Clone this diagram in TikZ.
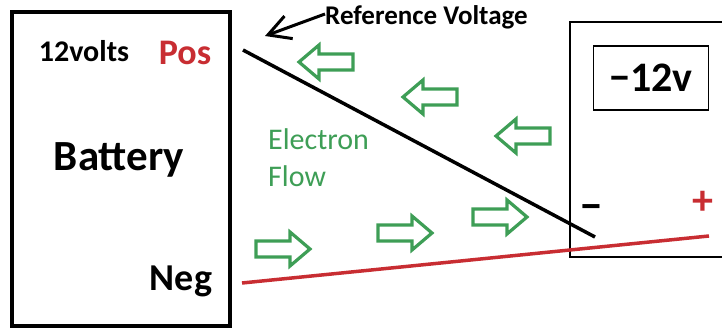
\documentclass[tikz,border=0pt]{standalone}
\usepackage{fontspec}
\setmainfont{Carlito}
\usetikzlibrary{arrows.meta}
\definecolor{posred}{RGB}{200,45,50}
\definecolor{flowgreen}{RGB}{62,158,86}

\tikzset{
  flowarrow/.pic={
    % hollow block arrow, pointing right
    \draw[flowgreen, line width=3.2pt, line join=miter]
      (-27,-8) -- (7,-8) -- (7,-17) -- (27,0) -- (7,17) -- (7,8) -- (-27,8) -- cycle;
  }
}

\begin{document}
\begin{tikzpicture}[x=1pt, y=-1pt,
    label/.style={inner sep=0pt, font=\bfseries\fontsize{#1}{#1}\selectfont},
    wire/.style={line width=3.5pt}]
    \useasboundingbox (0,0) rectangle (722,328);

    % --- battery ---
    \node[draw, line width=4pt, minimum width=218pt, minimum height=314pt, inner sep=0pt] (battery) at (121,169) {};
    \node[label=30] (volts) at (84,51) {12volts};
    \node[label=36, text=posred] (poslabel) at (185,53) {Pos};
    \node[label=43] (batlabel) at (119,160) {Battery};
    \node[label=38] (neglabel) at (181,281) {Neg};

    % --- meter (runs off the right edge) ---
    \draw[line width=1.2pt] (726,22) -- (570,22) -- (570,257) -- (726,257);
    \node[draw, line width=1.2pt, minimum width=115pt, minimum height=64pt, label=42] (reading) at (651,78) {−12v};
    \node[label=44] (minuslabel) at (591,213) {−};
    \node[label=42, text=posred] (pluslabel) at (703,203) {+};

    % --- terminals ---
    \coordinate (posterm) at (243,50);
    \coordinate (minusterm) at (595,237);
    \coordinate (negterm) at (242,283);
    \coordinate (plusterm) at (709,236);

    % --- wires ---
    \draw[wire, black] (posterm) -- (minusterm);
    \draw[wire, posred] (negterm) -- (plusterm);

    % --- reference voltage label and pointer ---
    \node[label=27, anchor=west] (reflabel) at (325,17) {Reference Voltage};
    \coordinate (reftip) at (265,36);
    \draw[line width=3pt, -{Straight Barb[length=22pt, width=24pt]}] ([yshift=3pt]reflabel.west) -- (reftip);

    % --- electron flow ---
    \node[font=\fontsize{30}{37}\selectfont, text=flowgreen, align=left, anchor=west, inner sep=0pt] (flowlabel) at (268,158) {Electron\\Flow};
    \pic[xscale=-1] (back1) at (326,62) {flowarrow};
    \pic[xscale=-1] (back2) at (430,97) {flowarrow};
    \pic[xscale=-1] (back3) at (523,136) {flowarrow};
    \pic (fwd1) at (283,249) {flowarrow};
    \pic (fwd2) at (405,233) {flowarrow};
    \pic (fwd3) at (500,217) {flowarrow};
\end{tikzpicture}
\end{document}
